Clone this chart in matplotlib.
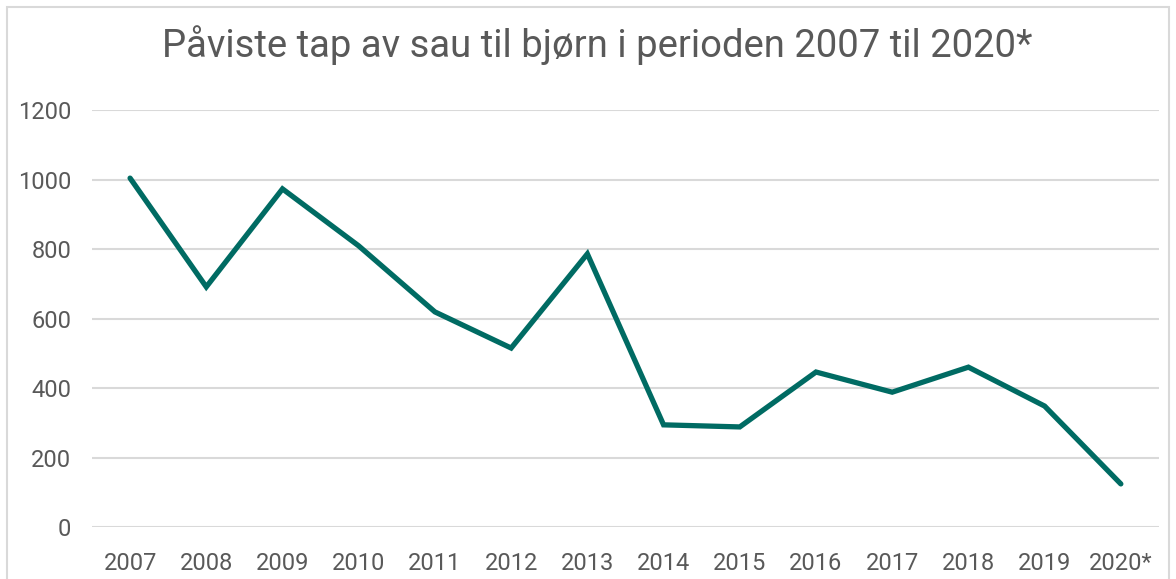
import matplotlib
matplotlib.use("Agg")
import matplotlib.pyplot as plt
from matplotlib import font_manager

years = ["2007", "2008", "2009", "2010", "2011", "2012", "2013",
         "2014", "2015", "2016", "2017", "2018", "2019", "2020*"]
losses = [1004, 691, 973, 809, 619, 515, 786, 294, 288, 446, 388, 460, 348, 124]
yticks = [0, 200, 400, 600, 800, 1000, 1200]
title = "Påviste tap av sau til bjørn i perioden 2007 til 2020*"

names = {f.name for f in font_manager.fontManager.ttflist}
fam = "Liberation Sans Narrow" if "Liberation Sans Narrow" in names else "Roboto"
plt.rcParams["font.family"] = [fam, "DejaVu Sans"]

text_col = "#595959"
fig = plt.figure(figsize=(11.76, 5.79), dpi=100)
ax = fig.add_axes([0.0782, 0.0898, 0.9073, 0.7202])

x = list(range(len(years)))
ax.plot(x, losses, color="#006B63", linewidth=3.8, solid_capstyle="round",
        solid_joinstyle="miter")
ax.set_xlim(-0.5, len(years) - 0.5)
ax.set_ylim(0, 1200)
ax.set_yticks(yticks)
ax.set_xticks(x)
ax.set_xticklabels(years)
ax.yaxis.grid(True, color="#d9d9d9", linewidth=1.5)
ax.set_axisbelow(True)
for s in ax.spines.values():
    s.set_visible(False)
ax.tick_params(length=0, labelsize=17, colors=text_col)
ax.tick_params(axis="x", pad=18)
ax.tick_params(axis="y", pad=15)

fig.text(0.508, 0.922, title, ha="center", va="center", fontsize=27.5, color=text_col)

# outer frame
fig.add_artist(plt.Rectangle((7 / 1176, -0.01), 1 - 14 / 1176, 1 - 7 / 579 + 0.01,
                             transform=fig.transFigure, fill=False,
                             edgecolor="#d9d9d9", linewidth=1.5))

fig.savefig("out.png", dpi=100)
